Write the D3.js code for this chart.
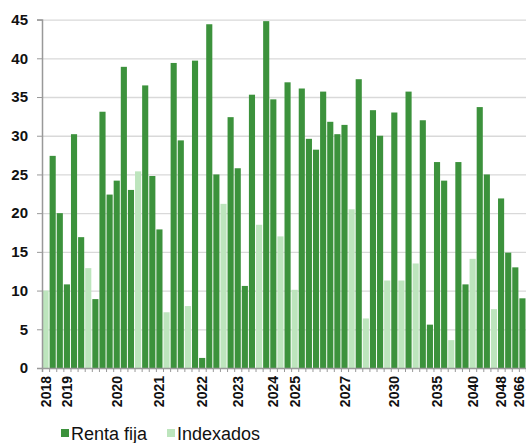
<!DOCTYPE html>
<html lang="es">
<head>
  <meta charset="UTF-8">
  <title>Vencimientos</title>
  <style>
    body { margin: 0; background: #fff; }
    svg { display: block; font-family: "Liberation Sans", Arial, sans-serif; }
  </style>
</head>
<body>
  <div id="chart"></div>
  <script src="https://d3js.org/d3.v7.min.js"></script>
  <script>

    // one slot per maturity, only some carry a year label
    const labels = ["2018","","","2019","","","","","","","2020","","","","","","2021","","","",
                    "","","2022","","","","","2023","","","","","2024","","","2025","","","","",
                    "","","2027","","","","","","","2030","","","","","","2035","","","","",
                    "2040","","","","2048","","","2066"];

    const rentaFija = [null,27.4,20.0,10.8,30.2,16.9,null,8.9,33.1,22.4,24.2,38.9,23.0,null,36.5,24.8,17.9,null,39.4,29.4,
                       null,39.7,1.3,44.4,25.0,null,32.4,25.8,10.6,35.3,null,44.8,34.7,null,36.9,null,36.1,29.6,28.2,35.7,
                       31.8,30.2,31.4,null,37.3,null,33.3,30.0,null,33.0,null,35.7,null,32.0,5.6,26.6,24.2,null,26.6,10.8,
                       null,33.7,25.0,null,21.9,14.9,13.0,9.0];

    const indexados = [10.0,null,null,null,null,null,12.9,null,null,null,null,null,null,25.4,null,null,null,7.2,null,null,
                       8.0,null,null,null,null,21.2,null,null,null,null,18.5,null,null,17.0,null,10.1,null,null,null,null,
                       null,null,null,20.5,null,6.4,null,null,11.3,null,11.3,null,13.5,null,null,null,null,3.6,null,null,
                       14.1,null,null,7.6,null,null,null,null];

    const yTicks = [0,5,10,15,20,25,30,35,40,45];
    const seriesNames = ["Renta fija", "Indexados"];

    const width = 526,
          height = 443,
          margin = {top: 19.6, right: 0, bottom: 75, left: 42};

    const dark = "#3c923c",
          light = "#bde5bd";

    const svg = d3.select("#chart")
      .append("svg")
      .attr("width", width)
      .attr("height", height);

    const idx = d3.range(labels.length);

    const x = d3.scaleBand(idx, [margin.left, width - margin.right])
      .paddingInner(0.14)
      .paddingOuter(0.07);

    const xEdge = d3.scaleLinear([0, labels.length], [margin.left, width - margin.right]);

    const y = d3.scaleLinear([0, 45], [height - margin.bottom, margin.top]);

    // grid
    svg.append("g")
      .attr("transform", `translate(${margin.left},0)`)
      .call(d3.axisLeft(y).tickValues(yTicks.slice(1)).tickSize(-(width - margin.left - margin.right)).tickFormat(""))
      .call(g => g.select(".domain").remove())
      .call(g => g.selectAll("line").attr("stroke", "#d9d9d9").attr("stroke-width", 1.3));

    // bars
    const bars = svg.append("g");
    bars.selectAll(".rf")
      .data(idx.filter(i => rentaFija[i] != null))
      .join("rect")
      .attr("x", i => x(i))
      .attr("y", i => y(rentaFija[i]))
      .attr("width", x.bandwidth())
      .attr("height", i => y(0) - y(rentaFija[i]))
      .attr("fill", dark);

    bars.selectAll(".ix")
      .data(idx.filter(i => indexados[i] != null))
      .join("rect")
      .attr("x", i => x(i))
      .attr("y", i => y(indexados[i]))
      .attr("width", x.bandwidth())
      .attr("height", i => y(0) - y(indexados[i]))
      .attr("fill", light);

    // y axis
    svg.append("g")
      .attr("transform", `translate(${margin.left},0)`)
      .call(d3.axisLeft(y).tickValues(yTicks).tickSize(5).tickPadding(9))
      .call(g => g.select(".domain").attr("stroke", "#999").attr("stroke-width", 1.5))
      .call(g => g.selectAll("line").attr("stroke", "#999"))
      .call(g => g.selectAll("text")
        .attr("fill", "#111")
        .style("font-size", "15px")
        .style("font-weight", "bold")
        .style("font-family", "Liberation Sans, Arial, sans-serif"));

    // x axis: ticks between categories
    svg.append("g")
      .attr("transform", `translate(0,${y(0)})`)
      .call(d3.axisBottom(xEdge).tickValues(d3.range(labels.length + 1)).tickSize(4).tickFormat(""))
      .call(g => g.select(".domain").attr("stroke", "#999").attr("stroke-width", 1.5))
      .call(g => g.selectAll("line").attr("stroke", "#999"));

    // x labels
    svg.append("g")
      .attr("transform", `translate(0,${y(0)})`)
      .call(d3.axisBottom(x).tickSize(0).tickFormat(i => labels[i]))
      .call(g => g.select(".domain").remove())
      .call(g => g.selectAll("text")
        .attr("transform", "rotate(-90)")
        .attr("text-anchor", "end")
        .attr("x", -8)
        .attr("y", 0)
        .attr("dy", i => i === labels.length - 1 ? "0.1em" : "0.36em") // last one sits on the edge
        .attr("fill", "#111")
        .style("font-size", "14px")
        .style("font-weight", "bold")
        .style("font-family", "Liberation Sans, Arial, sans-serif"));

    // legend
    const legendX = [61, 167];
    const legend = svg.selectAll(".legend-group")
      .data(seriesNames)
      .join("g")
      .attr("class", "legend-group");

    legend.append("rect")
      .attr("x", (d, i) => legendX[i])
      .attr("y", 429)
      .attr("width", 8)
      .attr("height", 8)
      .attr("fill", (d, i) => i === 0 ? dark : light);

    legend.append("text")
      .attr("x", (d, i) => legendX[i] + 10)
      .attr("y", 440)
      .style("font-size", "18px")
      .attr("fill", "#111")
      .text(d => d);

  </script>
</body>
</html>
